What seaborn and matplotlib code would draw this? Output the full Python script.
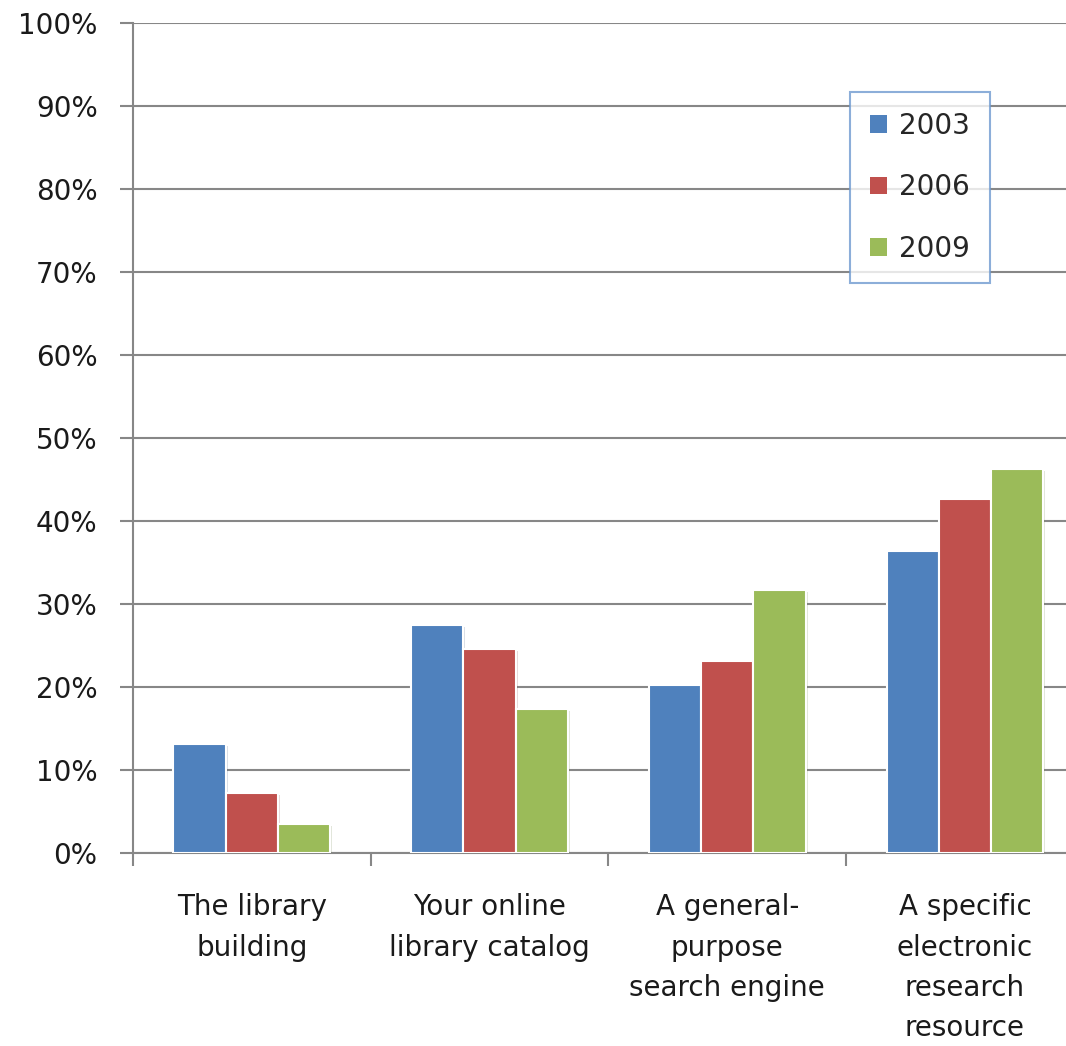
import numpy as np
import pandas as pd
import matplotlib.pyplot as plt
import matplotlib.patheffects as pe
from matplotlib.ticker import PercentFormatter
import seaborn as sns

# 数据（百分比）
categories = ['The library\nbuilding', 'Your online\nlibrary catalog',
              'A general-\npurpose\nsearch engine',
              'A specific\nelectronic\nresearch\nresource']
years = ['2003', '2006', '2009']
v2003 = [13.1, 27.5, 20.2, 36.4]
v2006 = [7.2, 24.6, 23.1, 42.6]
v2009 = [3.5, 17.3, 31.7, 46.3]
colors = ['#4F81BD', '#C0504D', '#9BBB59']

df = pd.DataFrame({'category': categories * 3,
                   'year': [y for y in years for _ in categories],
                   'value': v2003 + v2006 + v2009})

sns.set_style('white')
plt.rcParams['font.family'] = ['DejaVu Sans']

fig = plt.figure(figsize=(10.66, 10.46), dpi=100)
ax = fig.add_axes([133 / 1066, 193 / 1046, 1 - 133 / 1066, (853 - 23) / 1046])

sns.barplot(data=df, x='category', y='value', hue='year', palette=colors,
            width=0.66, gap=0, ax=ax, edgecolor='white', linewidth=1.5,
            saturation=1)

# 阴影效果
for p in ax.patches:
    p.set_path_effects([pe.SimplePatchShadow(offset=(1.5, -1.5), alpha=0.18, rho=0.6),
                        pe.Normal()])
    p.set_zorder(3)

grid_c = '#878787'
ax.set_ylim(0, 100)
ax.set_yticks(np.arange(0, 101, 10))
ax.yaxis.set_major_formatter(PercentFormatter(decimals=0))
ax.grid(axis='y', color=grid_c, linewidth=1.5, zorder=0)
ax.set_axisbelow(True)

for s in ['top', 'right']:
    ax.spines[s].set_visible(False)
for s in ['left', 'bottom']:
    ax.spines[s].set_color(grid_c)
    ax.spines[s].set_linewidth(1.5)

ax.tick_params(axis='y', which='major', direction='out', length=9.5, width=1.5,
               color=grid_c, pad=16, labelsize=20, labelcolor='#1a1a1a', left=True)
ax.set_xticks([-0.5, 0.5, 1.5, 2.5], minor=True)
ax.tick_params(axis='x', which='minor', direction='out', length=9.5, width=1.5,
               color=grid_c, bottom=True)
ax.tick_params(axis='x', which='major', length=0, pad=29, labelsize=20,
               labelcolor='#1a1a1a')
for lab in ax.get_xticklabels():
    lab.set_linespacing(1.56)
    lab.set_verticalalignment('top')

ax.set_xlabel('')
ax.set_ylabel('')

leg = ax.legend(title=None, loc='upper left',
                bbox_to_anchor=(850 / 1066, 1 - 92 / 1046),
                bbox_transform=fig.transFigure, fontsize=20,
                handlelength=0.6, handleheight=0.6, handletextpad=0.45,
                labelspacing=1.2, borderpad=0.72, frameon=True,
                fancybox=False, borderaxespad=0)
leg.get_frame().set_edgecolor('#6F9AD0')
leg.get_frame().set_linewidth(1.5)
for h in leg.legend_handles:
    h.set_path_effects([])
    h.set_edgecolor('none')

ax.set_xlim(-0.5, -0.5 + (1066 - 133) / 237.7)

fig.savefig('out.png', dpi=100)
